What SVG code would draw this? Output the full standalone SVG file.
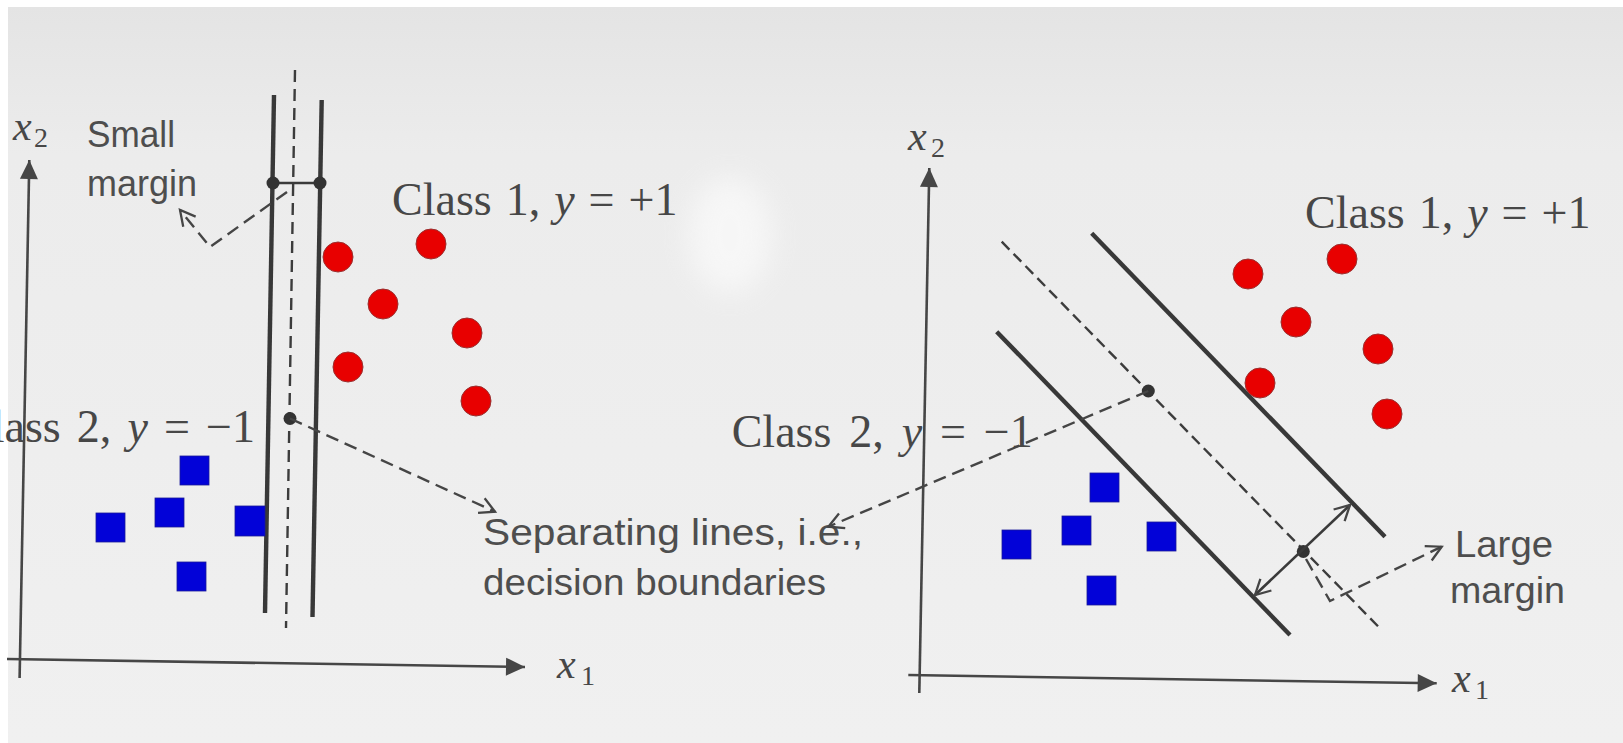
<svg xmlns="http://www.w3.org/2000/svg" width="1623" height="743" viewBox="0 0 1623 743">
<defs>
<style>
.serif{font-family:"Liberation Serif","Times New Roman",serif;fill:#474747;}
.sans{font-family:"Liberation Sans",Arial,sans-serif;fill:#4e4e4e;}
.cls{font-size:46px;}
.axlab{font-size:42px;font-style:italic;}
.sub{font-size:28px;font-style:normal;}
.note{font-size:36px;}
.axis{stroke:#464646;stroke-width:2.6;fill:none;}
.sep{stroke:#383838;stroke-width:4.4;fill:none;stroke-linecap:butt;}
.mid{stroke:#3c3c3c;stroke-width:2.4;fill:none;stroke-dasharray:12 7;}
.lead{stroke:#454545;stroke-width:2.4;fill:none;stroke-dasharray:13 7;}
.dbl{stroke:#3a3a3a;stroke-width:2.6;fill:none;}
.pt{fill:#333333;}
.red{fill:#e80000;stroke:#9a3030;stroke-width:1;}
.blue{fill:#0202d8;stroke:#1a1a9a;stroke-width:0.8;}
</style>
<linearGradient id="bg" x1="0" y1="0" x2="0" y2="1">
<stop offset="0" stop-color="#e4e4e4"/>
<stop offset="0.2" stop-color="#ececec"/>
<stop offset="1" stop-color="#f0f0f0"/>
</linearGradient>
<filter id="blur" x="-50%" y="-50%" width="200%" height="200%"><feGaussianBlur stdDeviation="14"/></filter>
<marker id="ah" viewBox="-21 -11 23 22" refX="0" refY="0" markerWidth="23" markerHeight="22" markerUnits="userSpaceOnUse" orient="auto">
<path d="M0,0 L-19,-9 L-19,9 Z" fill="#464646"/>
</marker>
<marker id="open" viewBox="-18 -11 20 22" refX="0" refY="0" markerWidth="20" markerHeight="22" markerUnits="userSpaceOnUse" orient="auto-start-reverse" overflow="visible">
<path d="M-15,-8 L0,0 L-15,8" fill="none" stroke="#454545" stroke-width="2.3" stroke-dasharray="none"/>
</marker>
</defs>

<rect x="0" y="0" width="1623" height="743" fill="#ffffff"/>
<rect x="8" y="7" width="1615" height="736" fill="url(#bg)"/>
<ellipse cx="730" cy="235" rx="42" ry="58" fill="#ffffff" opacity="0.55" filter="url(#blur)"/>

<!-- LEFT PANEL -->
<g id="left-axes">
<line class="axis" x1="19.6" y1="678" x2="29.3" y2="160" marker-end="url(#ah)"/>
<line class="axis" x1="7" y1="659" x2="525" y2="667" marker-end="url(#ah)"/>
<text class="serif axlab" x="13" y="140">x<tspan class="sub" x="34" y="147">2</tspan></text>
<text class="serif axlab" x="557" y="678">x<tspan class="sub" x="581" y="685">1</tspan></text>
</g>

<g id="left-boundaries">
<line class="sep" x1="274" y1="95" x2="265" y2="613"/>
<line class="sep" x1="321.7" y1="100" x2="312.5" y2="617"/>
<line class="mid" x1="295" y1="70" x2="286" y2="628"/>
<line stroke="#3a3a3a" stroke-width="2.6" x1="273" y1="183" x2="320" y2="183"/>
<circle class="pt" cx="273" cy="183" r="6.5"/>
<circle class="pt" cx="320" cy="183" r="6.5"/>
<circle class="pt" cx="290" cy="418.5" r="6.5"/>
</g>

<g id="left-class1">
<circle class="red" cx="338" cy="257" r="15"/>
<circle class="red" cx="431" cy="244" r="15"/>
<circle class="red" cx="383" cy="304" r="15"/>
<circle class="red" cx="467" cy="333" r="15"/>
<circle class="red" cx="348" cy="367" r="15"/>
<circle class="red" cx="476" cy="401" r="15"/>
<text class="serif cls" x="392" y="215" style="word-spacing:2.5px">Class 1, <tspan font-style="italic">y</tspan> = +1</text>
</g>

<g id="left-class2">
<rect class="blue" x="180" y="456" width="29" height="29"/>
<rect class="blue" x="155" y="498" width="29" height="29"/>
<rect class="blue" x="96" y="513" width="29" height="29"/>
<rect class="blue" x="235" y="506" width="30" height="30"/>
<rect class="blue" x="177" y="562" width="29" height="29"/>
<text class="serif cls" x="-39" y="442" style="word-spacing:4.6px">Class 2, <tspan font-style="italic">y</tspan> = −1</text>
</g>

<g id="small-margin-label">
<text class="sans note" x="87" y="147" textLength="88" lengthAdjust="spacingAndGlyphs">Small</text>
<text class="sans note" x="87" y="196" textLength="110" lengthAdjust="spacingAndGlyphs">margin</text>
</g>

<g id="separating-label">
<text class="sans note" x="483" y="545" textLength="380" lengthAdjust="spacingAndGlyphs">Separating lines, i.e.,</text>
<text class="sans note" x="483" y="595" textLength="343" lengthAdjust="spacingAndGlyphs">decision boundaries</text>
</g>

<!-- RIGHT PANEL -->
<g id="right-axes">
<line class="axis" x1="919.3" y1="693" x2="929.3" y2="168" marker-end="url(#ah)"/>
<line class="axis" x1="908.3" y1="675" x2="1436.7" y2="683.3" marker-end="url(#ah)"/>
<text class="serif axlab" x="908" y="150">x<tspan class="sub" x="931" y="157">2</tspan></text>
<text class="serif axlab" x="1452" y="692">x<tspan class="sub" x="1475" y="699">1</tspan></text>
</g>

<g id="right-boundaries">
<line class="sep" x1="1091.7" y1="233.3" x2="1385" y2="536.7"/>
<line class="sep" x1="996.7" y1="331.7" x2="1290" y2="635"/>
<line class="mid" style="stroke-dasharray:11 6" x1="1001.7" y1="241.7" x2="1380" y2="628.3"/>
<circle class="pt" cx="1148.3" cy="391" r="6.5"/>
<circle class="pt" cx="1303.3" cy="551.5" r="6.5"/>
</g>

<g id="right-class1">
<circle class="red" cx="1248" cy="274" r="15"/>
<circle class="red" cx="1342" cy="259" r="15"/>
<circle class="red" cx="1296" cy="322" r="15"/>
<circle class="red" cx="1378" cy="349" r="15"/>
<circle class="red" cx="1260" cy="383" r="15"/>
<circle class="red" cx="1387" cy="414" r="15"/>
<text class="serif cls" x="1305" y="228" style="word-spacing:2.5px">Class 1, <tspan font-style="italic">y</tspan> = +1</text>
</g>

<g id="right-class2">
<rect class="blue" x="1090" y="473" width="29" height="29"/>
<rect class="blue" x="1062" y="516" width="29" height="29"/>
<rect class="blue" x="1002" y="530" width="29" height="29"/>
<rect class="blue" x="1147" y="522" width="29" height="29"/>
<rect class="blue" x="1087" y="576" width="29" height="29"/>
<text class="serif cls" x="731.7" y="447" style="word-spacing:6.4px">Class 2, <tspan font-style="italic">y</tspan> = −1</text>
</g>

<g id="large-margin-label">
<text class="sans note" x="1455" y="557" textLength="98" lengthAdjust="spacingAndGlyphs">Large</text>
<text class="sans note" x="1450" y="603" textLength="115" lengthAdjust="spacingAndGlyphs">margin</text>
</g>

<g id="connectors">
<path class="lead" d="M287,192 L210,247 L180,210" marker-end="url(#open)"/>
<path class="lead" d="M290,418.5 L495,511.7" marker-end="url(#open)"/>
<path class="lead" d="M1148.3,391 L828.3,526.7" marker-end="url(#open)"/>
<path class="lead" d="M1306,559 L1330,601 L1441.7,546.7" marker-end="url(#open)"/>
<path class="dbl" d="M1255,595 L1350,505" marker-start="url(#open)" marker-end="url(#open)"/>
</g>
</svg>
